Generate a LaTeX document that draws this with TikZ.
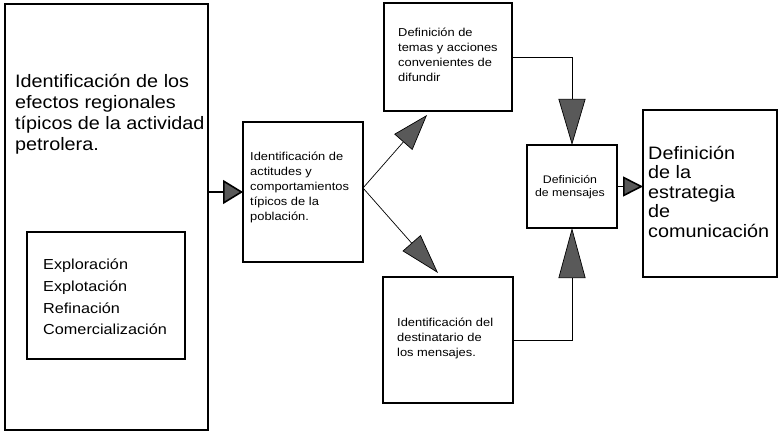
\documentclass[tikz,border=0pt]{standalone}
\usepackage{fontspec}
\setmainfont{Liberation Sans}
\newfontfamily\hvbig{Liberation Sans}[FakeStretch=1.1]
\newfontfamily\hvmid{Liberation Sans}[FakeStretch=1.12]
\newfontfamily\hvsmall{Liberation Sans}[FakeStretch=1.12]
\usetikzlibrary{arrows.meta,calc}
\tikzset{
  box/.style={draw, line width=1.5pt, inner sep=0pt, outer sep=0pt},
  bigtext/.style={font=\hvbig\fontsize{18}{21}\selectfont, align=left, inner sep=0pt},
  midtext/.style={font=\hvmid\fontsize{14.5}{21.7}\selectfont, align=left, inner sep=0pt},
  smalltext/.style={font=\hvsmall\fontsize{11.5}{15}\selectfont, align=left, inner sep=0pt},
  thinlink/.style={line width=0.7pt},
  thicklink/.style={line width=1.6pt},
  bigtip/.style 2 args={-{Triangle[length=#1, width=#2, fill=black!65]}}
}
\begin{document}
\begin{tikzpicture}[x=1pt, y=-1pt]
\useasboundingbox (0,0) rectangle (779,433);
% boxes
\node[box, minimum width=203pt, minimum height=426pt] (big) at (106.5,217) {};
\node[bigtext, anchor=west] (title) at (15,114) {Identificación de los\\efectos regionales\\típicos de la actividad\\petrolera.};
\node[box, minimum width=158pt, minimum height=127pt] (inner) at (106,295.5) {};
\node[midtext, anchor=west] (list) at (43,297) {Exploración\\Explotación\\Refinación\\Comercialización};
\node[box, minimum width=120pt, minimum height=140pt] (b2) at (303,192) {};
\node[smalltext, anchor=west] (b2t) at ([xshift=7pt,yshift=5pt]b2.west) {Identificación de\\actitudes y\\comportamientos\\típicos de la\\población.};
\node[box, minimum width=128pt, minimum height=108pt] (b3) at (448,57) {};
\node[smalltext, anchor=west] (b3t) at ([xshift=14pt,yshift=2pt]b3.west) {Definición de\\temas y acciones\\convenientes de\\difundir};
\node[box, minimum width=130pt, minimum height=126pt] (b4) at (448,340) {};
\node[smalltext, anchor=west] (b4t) at ([xshift=14pt,yshift=2pt]b4.west) {Identificación del\\destinatario de\\los mensajes.};
\node[box, minimum width=90pt, minimum height=83pt] (b5) at (572,186.5) {};
\node[smalltext, align=center, font=\hvsmall\fontsize{11}{13.5}\selectfont] (b5t) at (570,187) {Definición\\de mensajes};
\node[box, minimum width=134pt, minimum height=167pt] (b6) at (710,193.5) {};
\node[bigtext, anchor=west, font=\hvbig\fontsize{18}{19.5}\selectfont] (b6t) at ([xshift=5pt,yshift=2pt]b6.west) {Definición\\de la\\estrategia\\de\\comunicación};
% connectors
\coordinate (fork) at ([yshift=4pt]b2.east);
\coordinate (t3) at ([xshift=43pt,yshift=-4pt]b3.south west);
\coordinate (t4) at ([xshift=55pt,yshift=4pt]b4.north west);
\draw[thicklink, bigtip={20pt}{24pt}] (big.east |- b2.west) -- (b2.west);
\draw[thinlink, bigtip={36pt}{24pt}] (fork) -- (t3);
\draw[thinlink, bigtip={40pt}{24pt}] (fork) -- (t4);
\draw[thinlink, bigtip={46pt}{27pt}] (b3.east) -| (b5.north);
\draw[thinlink, bigtip={50pt}{27pt}] (b4.east) -| (b5.south);
\draw[thicklink, bigtip={20pt}{20pt}] (b5.east) -- (b5.east -| b6.west);
\end{tikzpicture}
\end{document}
